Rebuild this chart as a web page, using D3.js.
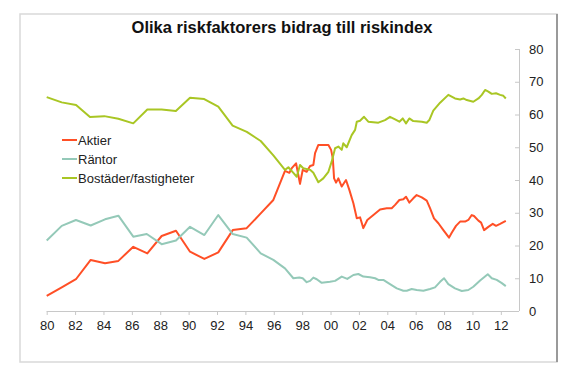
<!DOCTYPE html>
<html>
<head>
<meta charset="utf-8">
<script src="https://cdn.jsdelivr.net/npm/d3@7"></script>
<style>
body { margin: 0; background: #fff; }
text { font-family: Arial, 'Liberation Sans', sans-serif; }
</style>
</head>
<body>
<div id="chart"></div>
<script>

// values: [year, share of riskindex]
const aktier = [
[1980.00,4.6],[1981.06,7.2],[1982.06,9.7],[1983.10,15.6],[1984.11,14.6],[1985.05,15.3],
[1986.10,19.6],[1987.09,17.6],[1988.10,22.9],[1989.11,24.5],[1990.10,18.1],[1991.11,15.9],
[1992.09,17.9],[1993.11,24.7],[1994.09,25.3],[1995.08,29.8],[1995.97,33.9],[1996.79,42.8],
[1997.10,42.2],[1997.27,43.6],[1997.57,45.1],[1997.85,38.8],[1998.04,43.1],[1998.32,42.5],
[1998.56,44.3],[1998.79,44.6],[1998.91,48.2],[1999.14,50.7],[1999.85,50.7],[2000.04,49.2],
[2000.16,46.6],[2000.25,40.5],[2000.39,39.2],[2000.55,40.5],[2000.79,38.0],[2001.09,40.0],
[2001.33,36.9],[2001.61,32.9],[2001.85,28.3],[2002.08,28.6],[2002.31,25.3],[2002.59,27.8],
[2003.02,29.3],[2003.49,31.0],[2003.96,31.4],[2004.31,31.4],[2004.55,32.4],[2004.85,33.9],
[2005.13,34.1],[2005.32,34.9],[2005.55,33.1],[2005.83,34.4],[2006.07,35.4],[2006.43,34.7],
[2006.78,33.7],[2007.01,31.4],[2007.29,28.3],[2007.60,26.8],[2007.95,24.7],[2008.35,22.4],
[2008.54,23.9],[2008.84,26.0],[2009.13,27.3],[2009.48,27.3],[2009.71,27.8],[2009.95,29.3],
[2010.11,29.0],[2010.42,27.6],[2010.61,27.0],[2010.82,24.7],[2011.12,25.7],[2011.43,26.6],
[2011.66,26.0],[2011.95,26.6],[2012.35,27.5]
];

const rantor = [
[1980.00,21.5],[1981.06,26.0],[1982.06,27.8],[1983.10,26.1],[1984.11,28.0],[1985.05,29.1],
[1986.10,22.7],[1987.05,23.5],[1988.10,20.4],[1989.11,21.5],[1990.10,25.7],[1991.11,23.2],
[1992.09,29.3],[1993.11,23.5],[1994.09,22.4],[1995.08,17.6],[1995.97,15.6],[1996.79,13.0],
[1997.38,10.0],[1997.80,10.2],[1998.04,10.0],[1998.32,8.8],[1998.56,9.2],[1998.79,10.2],
[1999.03,9.7],[1999.38,8.6],[1999.96,8.9],[2000.32,9.2],[2000.79,10.5],[2001.18,9.8],
[2001.61,11.0],[2001.96,11.3],[2002.31,10.5],[2002.78,10.3],[2003.14,10.0],[2003.37,9.5],
[2003.72,9.5],[2004.19,8.2],[2004.67,6.9],[2005.13,6.2],[2005.37,6.2],[2005.72,6.7],
[2006.07,6.4],[2006.54,6.2],[2007.01,6.7],[2007.36,7.2],[2007.72,8.9],[2008.00,10.0],
[2008.30,8.2],[2008.77,6.9],[2009.25,6.1],[2009.71,6.4],[2010.06,7.4],[2010.54,9.3],
[2011.08,11.2],[2011.36,10.0],[2011.71,9.5],[2012.07,8.5],[2012.35,7.6]
];

const bostader = [
[1980.00,65.3],[1981.06,63.7],[1982.07,62.9],[1983.05,59.2],[1984.06,59.5],[1985.05,58.7],
[1986.10,57.3],[1987.09,61.5],[1988.10,61.5],[1989.10,61.1],[1990.10,65.1],[1991.10,64.7],
[1992.09,62.4],[1993.10,56.6],[1994.10,54.7],[1995.08,51.9],[1995.97,47.5],[1996.79,43.1],
[1997.03,43.9],[1997.38,42.2],[1997.62,41.0],[1997.85,44.6],[1998.08,43.6],[1998.56,43.1],
[1998.79,42.2],[1999.14,39.3],[1999.49,40.5],[1999.85,42.5],[2000.08,45.6],[2000.32,49.7],
[2000.55,50.2],[2000.79,49.2],[2000.90,51.2],[2001.14,50.0],[2001.49,53.7],[2001.73,55.3],
[2001.85,57.8],[2002.08,58.1],[2002.36,59.3],[2002.66,57.8],[2003.37,57.5],[2003.84,58.3],
[2004.19,59.3],[2004.55,58.5],[2004.85,57.8],[2005.09,58.8],[2005.32,57.3],[2005.55,58.8],
[2005.83,58.0],[2006.43,57.8],[2006.78,57.5],[2006.96,58.3],[2007.24,61.2],[2007.72,63.6],
[2008.30,66.0],[2008.77,64.9],[2009.13,64.6],[2009.36,64.9],[2009.60,64.4],[2010.06,63.9],
[2010.42,64.9],[2010.66,66.0],[2010.89,67.5],[2011.12,67.0],[2011.36,66.3],[2011.66,66.5],
[2011.95,66.0],[2012.18,65.7],[2012.35,64.9]
];

const seriesNames = ['Aktier', 'Räntor', 'Bostäder/fastigheter'];
const seriesColors = ['#ff4f26', '#94c9b8', '#a9c624'];
const xTicks = [1980,1982,1984,1986,1988,1990,1992,1994,1996,1998,2000,2002,2004,2006,2008,2010,2012];
const yTicks = [0,10,20,30,40,50,60,70,80];
const title = 'Olika riskfaktorers bidrag till riskindex';

const width = 580, height = 375;

const svg = d3.select('#chart')
                .append('svg')
                .attr('width', width)
                .attr('height', height);

// frame
svg.append('rect')
    .attr('x', 20).attr('y', 14)
    .attr('width', 537).attr('height', 348)
    .style('fill', 'none')
    .style('stroke', '#d9d9d9')
    .style('stroke-width', 1.5);
svg.append('line')
    .attr('x1', 557).attr('x2', 557).attr('y1', 14).attr('y2', 362)
    .style('stroke', '#9a9a9a')
    .style('stroke-width', 2);

svg.append('text')
    .attr('x', 282)
    .attr('y', 33)
    .style('text-anchor', 'middle')
    .style('font-weight', 'bold')
    .style('font-size', '16.5px')
    .style('fill', '#111')
    .text(title);

let scaleX = d3.scaleLinear().domain([1980, 2013.28]).range([46.7, 519]);
let scaleY = d3.scaleLinear().domain([0, 80]).range([311, 49]);

let xAxis = d3.axisBottom(scaleX)
                .tickValues(xTicks)
                .tickSize(4)
                .tickPadding(6)
                .tickFormat(d => String(d % 100).padStart(2, '0'));

let yAxis = d3.axisRight(scaleY)
                .tickValues(yTicks)
                .tickSize(0)
                .tickPadding(10);

let xAxisGroup = svg.append('g')
                    .attr('transform', 'translate(0,' + scaleY(0) + ')')
                    .call(xAxis);
xAxisGroup.select('.domain').attr('d', 'M' + scaleX.range()[0] + ',0.5H' + scaleX.range()[1]);

let yAxisGroup = svg.append('g')
                    .attr('transform', 'translate(' + scaleX.range()[1] + ',0)')
                    .call(yAxis);
yAxisGroup.select('.domain').attr('d', 'M0.5,' + scaleY(80) + 'V' + scaleY(0));
// small inward tick marks on the right axis
yAxisGroup.selectAll('.tick').append('line')
    .attr('x1', -4).attr('x2', 0)
    .style('stroke', '#c8c8c8');

svg.selectAll('.domain').style('stroke', '#c8c8c8');
xAxisGroup.selectAll('.tick line').style('stroke', '#c8c8c8');
svg.selectAll('.tick text')
    .style('font-family', "Arial, 'Liberation Sans', sans-serif")
    .style('font-size', '13px')
    .style('fill', '#222');

let line = d3.line()
                .x(d => scaleX(d[0]))
                .y(d => scaleY(d[1]));

[aktier, rantor, bostader].forEach((data, i) => {
    svg.append('path')
        .datum(data)
        .attr('d', line)
        .style('fill', 'none')
        .style('stroke', seriesColors[i])
        .style('stroke-width', 2)
        .style('stroke-linejoin', 'round');
});

// legend
let legend = svg.selectAll('.legend')
                .data(seriesNames)
                .enter()
                .append('g')
                .attr('transform', (d, i) => 'translate(62,' + (140 + i * 19) + ')');

legend.append('line')
    .attr('x1', 0).attr('x2', 15)
    .style('stroke', (d, i) => seriesColors[i])
    .style('stroke-width', 2);

legend.append('text')
    .attr('x', 16)
    .attr('y', 5)
    .style('font-size', '13px')
    .style('fill', '#222')
    .text(d => d);

</script>
</body>
</html>
